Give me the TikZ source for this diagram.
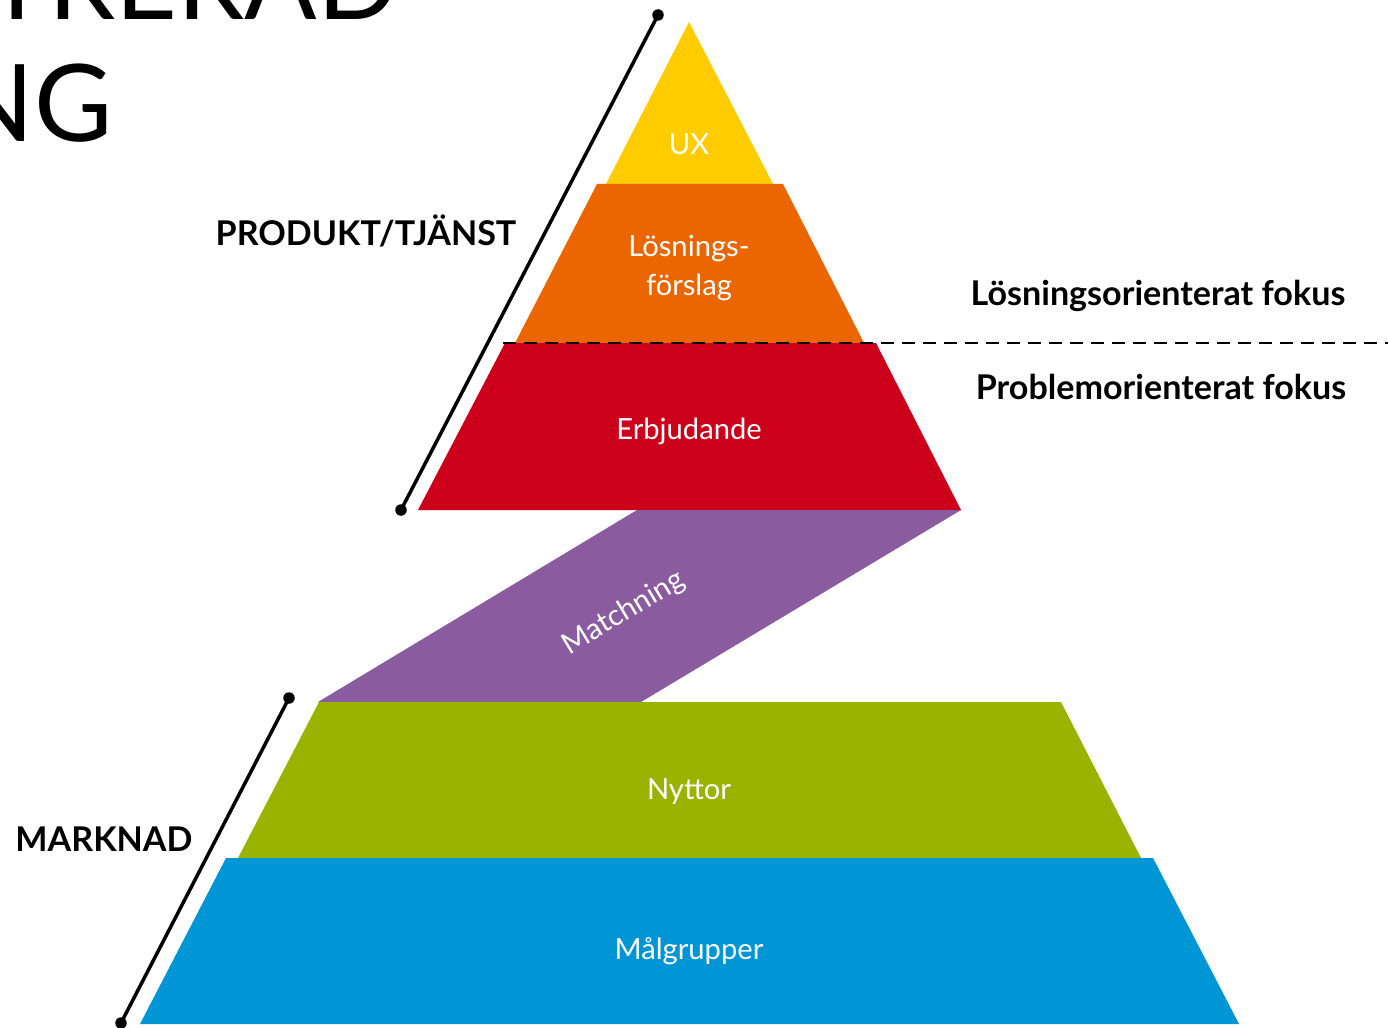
\documentclass[tikz,border=0pt]{standalone}
\usepackage{fontspec}
\setmainfont{Lato}
\usetikzlibrary{positioning}
\definecolor{gul}{HTML}{FFCC00}
\definecolor{orange}{HTML}{EB6600}
\definecolor{rod}{HTML}{CC001A}
\definecolor{lila}{HTML}{8B5BA0}
\definecolor{gron}{HTML}{99B400}
\definecolor{bla}{HTML}{0096D6}
\begin{document}
\begin{tikzpicture}[x=0.02cm,y=-0.02cm]
	\tikzset{
		every node/.style={font=\fontsize{16.6}{22}\selectfont},
		% text i lagren
		lager/.style={text=white,align=center,inner sep=0pt},
		% svarta rubriker
		rubrik/.style={font=\fontsize{19.4}{23}\selectfont\bfseries,inner sep=0pt},
		titel/.style={font=\fontsize{61}{70}\selectfont,inner sep=0pt},
		linje/.style={line width=0.07cm},
		prick/.style={circle,fill,inner sep=0pt,minimum size=0.23cm},
	}
	\useasboundingbox (0,0) rectangle (1388,1027);
	% titel (avskuren)
	\node[titel,anchor=base east] (tit1) at (399,20) {TRERAD};
	\node[titel,anchor=base east] (tit2) at (113,142) {NG};
	%
	\fill[gul] (689,22)--(773,184)--(606,184)--cycle;
	\fill[orange] (597,184)--(783,184)--(864,343)--(515,343)--cycle;
	\fill[rod] (505,343)--(876,343)--(961,510)--(418,510)--cycle;
	\fill[lila] (637,510)--(961,510)--(641,702)--(318,702)--cycle;
	\fill[gron] (319,702)--(1061,702)--(1141,858)--(238,858)--cycle;
	\fill[bla] (226,858)--(1153,858)--(1239,1024)--(140,1024)--cycle;
	%
	\node[lager] (ux) at (689,144) {UX};
	\node[lager] (losn) at (689,268) {Lösnings-\\förslag};
	\node[lager] (erbj) at (689,431) {Erbjudande};
	\node[lager,rotate=31] (match) at (624,613) {Matchning};
	\node[lager] (nytt) at (689,792) {Nyttor};
	\node[lager] (malg) at (689,951) {Målgrupper};
	%
	\node[rubrik] (prod) at (366,231) {PRODUKT/TJÄNST};
	\node[rubrik] (mark) at (104,839) {MARKNAD};
	\node[rubrik] (losfok) at (1158,296) {Lösningsorienterat fokus};
	\node[rubrik] (profok) at (1161,387) {Problemorienterat fokus};
	%
	\node[prick] (p1) at (658,15) {};
	\node[prick] (p2) at (401,510) {};
	\node[prick] (p3) at (289,698) {};
	\node[prick] (p4) at (121,1023) {};
	\draw[linje] (p1.center)--(p2.center) (p3.center)--(p4.center);
	%
	\coordinate (s1) at (503,343);
	\coordinate (s2) at (1388,343);
	\draw[line width=0.05cm,dash pattern=on 0.26cm off 0.16cm] (s1)--(s2);
\end{tikzpicture}
\end{document}
